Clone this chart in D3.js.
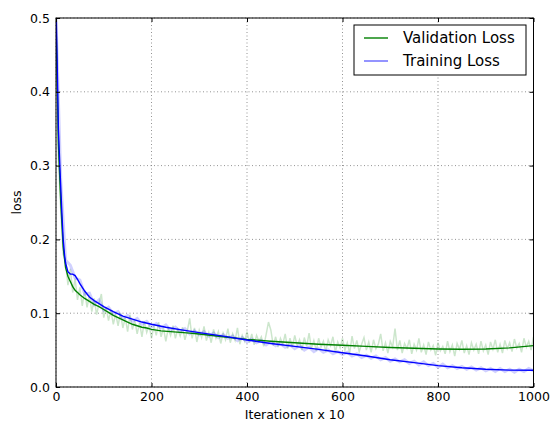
<!DOCTYPE html>
<html><head><meta charset="utf-8">
<script src="https://cdn.jsdelivr.net/npm/d3@7"></script>
<style>body{margin:0;background:#fff}text{font-family:"DejaVu Sans",sans-serif}</style>
</head><body><svg id="c" width="550" height="426"></svg>
<script>
// ---- data ----
const xTicks = [0,200,400,600,800,1000];
const yTicks = [0.0,0.1,0.2,0.3,0.4,0.5];
const seriesNames = ["Validation Loss","Training Loss"];

const valSmoothX = [0,5,10,15,20,25,30,35,40,45,50,60,70,80,90,100,110,120,130,140,150,160,170,180,190,200,220,240,260,280,300,350,400,450,500,550,600,650,700,750,800,850,900,950,1000];
const valSmoothY = [0.50,0.33,0.25,0.19,0.162,0.150,0.143,0.136,0.131,0.128,0.125,0.120,0.116,0.112,0.109,0.105,0.101,0.097,0.094,0.091,0.088,0.085,0.083,0.081,0.080,0.078,0.076,0.075,0.074,0.073,0.0718,0.068,0.0646,0.062,0.060,0.058,0.0565,0.055,0.0535,0.0525,0.0515,0.0512,0.0515,0.053,0.056];

const trainSmoothX = [0,3,5,8,10,12,15,18,20,25,30,35,40,45,50,60,70,80,90,100,120,140,160,180,200,230,266,300,350,400,450,500,550,600,650,700,750,800,850,900,950,1000];
const trainSmoothY = [0.52,0.42,0.35,0.30,0.27,0.24,0.20,0.178,0.168,0.156,0.153,0.153,0.151,0.146,0.140,0.130,0.122,0.117,0.113,0.109,0.102,0.096,0.092,0.088,0.085,0.081,0.077,0.0736,0.069,0.0637,0.059,0.055,0.051,0.0465,0.042,0.037,0.033,0.029,0.026,0.024,0.0228,0.0226];

// raw validation, every 5 iterations (x10) from 0 to 1000
const valRawStep = 5;
const valRaw = [0.47,0.31,0.24,0.18,0.17,0.138,0.160,0.128,0.147,0.118,0.135,0.110,0.131,0.108,0.124,0.102,0.120,0.098,0.113,0.126,
0.094,0.108,0.090,0.104,0.085,0.099,0.083,0.100,0.080,0.094,0.075,0.098,0.078,0.090,0.072,0.087,0.068,0.089,0.074,0.084,
0.066,0.083,0.070,0.088,0.068,0.080,0.062,0.079,0.070,0.083,0.066,0.078,0.069,0.081,0.064,0.076,0.093,0.066,0.080,0.061,
0.077,0.067,0.082,0.063,0.074,0.060,0.078,0.066,0.075,0.059,0.073,0.064,0.079,0.060,0.072,0.063,0.080,0.058,0.070,0.062,
0.075,0.060,0.072,0.057,0.070,0.062,0.068,0.055,0.071,0.088,0.077,0.056,0.068,0.054,0.066,0.058,0.072,0.052,0.066,0.054,
0.070,0.056,0.064,0.050,0.067,0.055,0.073,0.052,0.063,0.049,0.066,0.054,0.062,0.048,0.064,0.056,0.068,0.047,0.061,0.053,
0.066,0.050,0.060,0.046,0.069,0.052,0.063,0.048,0.058,0.067,0.050,0.061,0.047,0.064,0.052,0.058,0.072,0.049,0.060,0.046,
0.062,0.054,0.079,0.050,0.063,0.046,0.059,0.052,0.064,0.045,0.058,0.050,0.066,0.047,0.057,0.044,0.061,0.050,0.056,0.043,
0.060,0.049,0.055,0.045,0.062,0.048,0.057,0.042,0.059,0.051,0.063,0.046,0.056,0.044,0.060,0.050,0.058,0.045,0.062,0.049,
0.057,0.044,0.061,0.051,0.064,0.047,0.058,0.046,0.063,0.052,0.060,0.048,0.065,0.053,0.059,0.047,0.066,0.054,0.062,0.050,
0.068];

// raw training, every 10 iterations (x10) from 0 to 1000
const trainRawStep = 10;
const trainRaw = [0.50,0.28,0.172,0.165,0.148,0.145,0.126,0.127,0.112,0.118,
0.104,0.108,0.099,0.102,0.093,0.097,0.089,0.093,0.085,0.089,
0.082,0.086,0.080,0.084,0.077,0.081,0.075,0.079,0.072,0.076,
0.071,0.075,0.069,0.073,0.067,0.071,0.066,0.069,0.063,0.067,
0.061,0.065,0.060,0.063,0.057,0.061,0.056,0.059,0.054,0.057,
0.052,0.056,0.050,0.054,0.048,0.052,0.047,0.050,0.045,0.048,
0.044,0.047,0.042,0.045,0.040,0.043,0.039,0.042,0.037,0.040,
0.035,0.038,0.034,0.037,0.032,0.035,0.030,0.034,0.029,0.032,
0.027,0.031,0.026,0.029,0.025,0.028,0.024,0.027,0.023,0.026,
0.022,0.025,0.021,0.025,0.021,0.024,0.020,0.024,0.021,0.025,
0.022];

// ---- chart ----
const svg = d3.select("#c");
const L = 56, R = 533.5, T = 18, B = 387;
const x = d3.scaleLinear().domain([0,1000]).range([L,R]);
const y = d3.scaleLinear().domain([0,0.5]).range([B,T]);

svg.append("defs").append("clipPath").attr("id","clip")
  .append("rect").attr("x",L).attr("y",T).attr("width",R-L).attr("height",B-T);

// grid
const grid = svg.append("g");
xTicks.forEach(t=>{ grid.append("line").attr("x1",x(t)).attr("x2",x(t)).attr("y1",T).attr("y2",B)
  .attr("stroke","#777").attr("stroke-width",0.8).attr("stroke-dasharray","1,2.5"); });
yTicks.forEach(t=>{ grid.append("line").attr("y1",y(t)).attr("y2",y(t)).attr("x1",L).attr("x2",R)
  .attr("stroke","#777").attr("stroke-width",0.8).attr("stroke-dasharray","1,2.5"); });

const plot = svg.append("g").attr("clip-path","url(#clip)");
const line = d3.line().x(d=>x(d[0])).y(d=>y(d[1]));

const valRawPts = valRaw.map((v,i)=>[i*valRawStep,v]);
const trainRawPts = trainRaw.map((v,i)=>[i*trainRawStep,v]);
plot.append("path").attr("d",line(valRawPts)).attr("fill","none").attr("stroke","#008000").attr("stroke-opacity",0.2).attr("stroke-width",1.5);
plot.append("path").attr("d",line(trainRawPts)).attr("fill","none").attr("stroke","#0000ff").attr("stroke-opacity",0.18).attr("stroke-width",3);
plot.append("path").attr("d",line(valSmoothX.map((v,i)=>[v,valSmoothY[i]]))).attr("fill","none").attr("stroke","#008000").attr("stroke-width",1.4);
plot.append("path").attr("d",line(trainSmoothX.map((v,i)=>[v,trainSmoothY[i]]))).attr("fill","none").attr("stroke","#0000ff").attr("stroke-width",1.4);

// axes (inward ticks on all sides)
const fs = "12.5px";
svg.append("g").attr("transform",`translate(0,${B})`)
  .call(d3.axisBottom(x).tickValues(xTicks).tickSizeInner(-4).tickSizeOuter(0).tickPadding(5).tickFormat(d3.format("d")))
  .call(g=>{g.select(".domain").remove(); g.selectAll("text").attr("font-size",fs).attr("fill","#000").style("font-family","DejaVu Sans");});
svg.append("g").attr("transform",`translate(0,${T})`)
  .call(d3.axisTop(x).tickValues(xTicks).tickSizeInner(-4).tickSizeOuter(0).tickFormat(""))
  .call(g=>g.select(".domain").remove());
svg.append("g").attr("transform",`translate(${L},0)`)
  .call(d3.axisLeft(y).tickValues(yTicks).tickSizeInner(-4).tickSizeOuter(0).tickPadding(6).tickFormat(d3.format(".1f")))
  .call(g=>{g.select(".domain").remove(); g.selectAll("text").attr("font-size",fs).attr("fill","#000").style("font-family","DejaVu Sans");});
svg.append("g").attr("transform",`translate(${R},0)`)
  .call(d3.axisRight(y).tickValues(yTicks).tickSizeInner(-4).tickSizeOuter(0).tickFormat(""))
  .call(g=>g.select(".domain").remove());

svg.append("rect").attr("x",L).attr("y",T).attr("width",R-L).attr("height",B-T)
  .attr("fill","none").attr("stroke","#000").attr("stroke-width",1);

svg.append("text").attr("x",(L+R)/2).attr("y",419).attr("text-anchor","middle").attr("font-size",fs).text("Iterationen x 10");
svg.append("text").attr("transform",`translate(21,${(T+B)/2}) rotate(-90)`).attr("text-anchor","middle").attr("font-size",fs).text("loss");

// legend
const lg = svg.append("g");
lg.append("rect").attr("x",354).attr("y",25).attr("width",172).attr("height",50).attr("fill","#fff").attr("stroke","#000").attr("stroke-width",1);
const legColors = ["#008000","#6666ff"];
seriesNames.forEach((n,i)=>{
  const yy = 38 + i*23;
  lg.append("line").attr("x1",364).attr("x2",388).attr("y1",yy).attr("y2",yy).attr("stroke",legColors[i]).attr("stroke-width",1.4);
  lg.append("text").attr("x",403).attr("y",yy+5).attr("font-size","15px").text(n);
});
</script></body></html>
